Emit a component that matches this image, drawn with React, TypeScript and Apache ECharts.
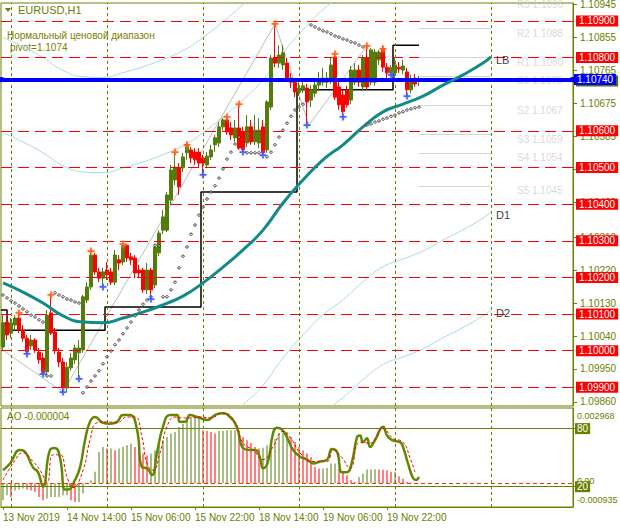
import React, { useEffect, useRef } from "react";
import * as echarts from "echarts";

const SLOTS = 143;
// candles: [open, close, low, high]
const candles: number[][] = [
  [1.10010, 1.10076, 1.10002, 1.10097], [1.10078, 1.10043, 1.10029, 1.10097], [1.10048, 1.10076, 1.10034, 1.10089],
  [1.10070, 1.10089, 1.10056, 1.10097], [1.10089, 1.10056, 1.10048, 1.10103], [1.10056, 1.10034, 1.10024, 1.10070],
  [1.10034, 1.09996, 1.09991, 1.10043], [1.10013, 1.10029, 1.10002, 1.10043], [1.10029, 1.10002, 1.09994, 1.10034],
  [1.09996, 1.09975, 1.09964, 1.10007], [1.09980, 1.09939, 1.09936, 1.09994], [1.09942, 1.10097, 1.09931, 1.10111],
  [1.10103, 1.10048, 1.10043, 1.10152], [1.10051, 1.10002, 1.09991, 1.10062], [1.09996, 1.09969, 1.09955, 1.10007],
  [1.09969, 1.09898, 1.09887, 1.09980], [1.09898, 1.09955, 1.09887, 1.09969], [1.09953, 1.09980, 1.09945, 1.09994],
  [1.09975, 1.10007, 1.09964, 1.10016], [1.09994, 1.10007, 1.09923, 1.10029], [1.10002, 1.10147, 1.09994, 1.10152],
  [1.10138, 1.10174, 1.10130, 1.10187], [1.10174, 1.10261, 1.10166, 1.10272], [1.10261, 1.10215, 1.10207, 1.10267],
  [1.10215, 1.10198, 1.10187, 1.10226], [1.10198, 1.10215, 1.10174, 1.10226], [1.10220, 1.10207, 1.10193, 1.10242],
  [1.10215, 1.10187, 1.10179, 1.10226], [1.10187, 1.10261, 1.10179, 1.10275], [1.10248, 1.10239, 1.10220, 1.10261],
  [1.10242, 1.10288, 1.10234, 1.10291], [1.10288, 1.10253, 1.10242, 1.10288], [1.10256, 1.10248, 1.10234, 1.10267],
  [1.10253, 1.10212, 1.10198, 1.10261], [1.10220, 1.10212, 1.10198, 1.10234], [1.10220, 1.10166, 1.10158, 1.10226],
  [1.10166, 1.10220, 1.10155, 1.10239], [1.10220, 1.10166, 1.10141, 1.10226], [1.10179, 1.10283, 1.10171, 1.10286],
  [1.10267, 1.10321, 1.10258, 1.10329], [1.10329, 1.10365, 1.10318, 1.10384], [1.10329, 1.10425, 1.10324, 1.10433],
  [1.10411, 1.10493, 1.10398, 1.10507], [1.10466, 1.10501, 1.10452, 1.10542], [1.10499, 1.10447, 1.10425, 1.10512],
  [1.10499, 1.10529, 1.10488, 1.10540], [1.10540, 1.10562, 1.10521, 1.10567], [1.10548, 1.10526, 1.10512, 1.10556],
  [1.10542, 1.10521, 1.10507, 1.10553], [1.10542, 1.10512, 1.10501, 1.10553], [1.10526, 1.10512, 1.10480, 1.10534],
  [1.10507, 1.10531, 1.10499, 1.10542], [1.10529, 1.10548, 1.10521, 1.10562], [1.10562, 1.10581, 1.10542, 1.10589],
  [1.10567, 1.10611, 1.10556, 1.10624], [1.10611, 1.10630, 1.10602, 1.10635], [1.10630, 1.10597, 1.10589, 1.10638],
  [1.10608, 1.10589, 1.10575, 1.10624], [1.10581, 1.10608, 1.10570, 1.10630], [1.10608, 1.10553, 1.10548, 1.10673],
  [1.10597, 1.10548, 1.10542, 1.10611], [1.10567, 1.10611, 1.10556, 1.10643], [1.10611, 1.10570, 1.10562, 1.10630],
  [1.10570, 1.10602, 1.10562, 1.10643], [1.10567, 1.10602, 1.10553, 1.10635], [1.10611, 1.10540, 1.10534, 1.10630],
  [1.10548, 1.10679, 1.10540, 1.10684], [1.10665, 1.10799, 1.10657, 1.10807], [1.10799, 1.10785, 1.10774, 1.10892],
  [1.10785, 1.10807, 1.10772, 1.10834], [1.10780, 1.10813, 1.10766, 1.10834], [1.10785, 1.10744, 1.10733, 1.10799],
  [1.10744, 1.10733, 1.10717, 1.10758], [1.10733, 1.10706, 1.10692, 1.10744], [1.10706, 1.10717, 1.10695, 1.10733],
  [1.10712, 1.10723, 1.10703, 1.10739], [1.10717, 1.10679, 1.10616, 1.10728], [1.10684, 1.10712, 1.10665, 1.10725],
  [1.10703, 1.10725, 1.10692, 1.10744], [1.10725, 1.10742, 1.10712, 1.10761], [1.10733, 1.10744, 1.10723, 1.10772],
  [1.10733, 1.10744, 1.10717, 1.10761], [1.10739, 1.10780, 1.10728, 1.10799], [1.10802, 1.10692, 1.10684, 1.10810],
  [1.10720, 1.10671, 1.10657, 1.10739], [1.10698, 1.10652, 1.10638, 1.10712], [1.10712, 1.10671, 1.10663, 1.10723],
  [1.10684, 1.10766, 1.10673, 1.10777], [1.10733, 1.10766, 1.10725, 1.10785], [1.10766, 1.10733, 1.10720, 1.10780],
  [1.10720, 1.10799, 1.10712, 1.10807], [1.10799, 1.10720, 1.10712, 1.10832], [1.10733, 1.10821, 1.10725, 1.10826],
  [1.10733, 1.10815, 1.10723, 1.10824], [1.10794, 1.10815, 1.10780, 1.10821], [1.10824, 1.10774, 1.10761, 1.10832],
  [1.10774, 1.10758, 1.10744, 1.10785], [1.10758, 1.10772, 1.10753, 1.10780], [1.10758, 1.10780, 1.10744, 1.10799],
  [1.10774, 1.10769, 1.10758, 1.10788], [1.10766, 1.10777, 1.10755, 1.10794], [1.10761, 1.10712, 1.10695, 1.10772],
  [1.10712, 1.10739, 1.10703, 1.10753], [1.10744, 1.10728, 1.10720, 1.10755], [1.10736, 1.10739, 1.10723, 1.10750],
];

// displaced moving average (LB) [barIndex, price]
const maLine: number[][] = [
  [0, 1.10185], [5, 1.10160], [10, 1.10130], [15, 1.10095], [20, 1.10078], [25, 1.10076], [30, 1.10089],
  [35, 1.10105], [40, 1.10125], [45, 1.10149], [50, 1.10185], [55, 1.10228], [60, 1.10275], [65, 1.10329],
  [70, 1.10403], [75, 1.10466], [80, 1.10521], [85, 1.10562], [90, 1.10611], [95, 1.10652], [100, 1.10673],
  [105, 1.10695], [110, 1.10725], [115, 1.10753], [120, 1.10785], [122, 1.10802],
];
// price-range bands (light blue)
const bandU1: number[][] = [
  [0, 1.10595], [5, 1.1057], [10, 1.1054], [15, 1.10505], [20, 1.10488], [25, 1.10486], [30, 1.10499],
  [35, 1.10515], [40, 1.10535], [45, 1.10559], [50, 1.10595], [55, 1.10638], [60, 1.10685], [65, 1.10739],
  [70, 1.10813], [75, 1.10876], [80, 1.10931], [85, 1.10972],
];
const bandU2: number[][] = [
  [0, 1.10855], [5, 1.1083], [10, 1.108], [15, 1.10765], [20, 1.10748], [25, 1.10746], [30, 1.10759],
  [35, 1.10775], [40, 1.10795], [45, 1.10819], [50, 1.10855], [55, 1.10898], [60, 1.10945], [65, 1.10999],
];
const bandD1: number[][] = [
  [55, 1.09805], [60, 1.09852], [65, 1.09906], [70, 1.0998], [75, 1.10043], [80, 1.10098], [85, 1.10139],
  [90, 1.10188], [95, 1.10229], [100, 1.1025], [105, 1.10272], [110, 1.10302], [115, 1.1033], [120, 1.10362],
  [122, 1.10379],
];
const bandD2: number[][] = [
  [80, 1.09831], [85, 1.09872], [90, 1.09921], [95, 1.09962], [100, 1.09983], [105, 1.10005], [110, 1.10035],
  [115, 1.10063], [120, 1.10095], [122, 1.10112],
];

// parabolic SAR dots [barIndex, price]
const sarDots: number[][] = [
  [0, 1.10152], [1, 1.10144], [2, 1.10136], [3, 1.10130], [4, 1.10122], [5, 1.10114], [6, 1.10106], [7, 1.10097],
  [8, 1.10092], [9, 1.10084], [10, 1.10078], [11, 1.09931], [12, 1.09931], [13, 1.10158], [14, 1.10152],
  [15, 1.10147], [16, 1.10141], [17, 1.10138], [18, 1.10133], [19, 1.10130], [20, 1.09885], [21, 1.09901],
  [22, 1.09917], [23, 1.09931], [24, 1.09945], [25, 1.09964], [26, 1.09983], [27, 1.09999], [28, 1.10016],
  [29, 1.10029], [30, 1.10046], [31, 1.10062], [32, 1.10078], [33, 1.10095], [34, 1.10111], [35, 1.10127],
  [36, 1.10138], [37, 1.10147], [38, 1.10288], [39, 1.10286], [40, 1.10147], [41, 1.10147], [42, 1.10166],
  [43, 1.10187], [44, 1.10226], [45, 1.10258], [46, 1.10283], [47, 1.10318], [48, 1.10343], [49, 1.10370],
  [50, 1.10392], [51, 1.10414], [52, 1.10433], [53, 1.10450], [54, 1.10471], [55, 1.10496], [56, 1.10523],
  [57, 1.10542], [58, 1.10564], [59, 1.10583], [61, 1.10540], [62, 1.10540], [63, 1.10540], [64, 1.10540],
  [66, 1.10529], [67, 1.10542], [68, 1.10562], [69, 1.10583], [70, 1.10602], [71, 1.10621], [72, 1.10640],
  [73, 1.10657], [74, 1.10665], [75, 1.10673], [77, 1.10889], [78, 1.10884], [79, 1.10878], [80, 1.10873],
  [81, 1.10870], [82, 1.10865], [83, 1.10859], [84, 1.10856], [85, 1.10851], [86, 1.10848], [87, 1.10843],
  [88, 1.10840], [89, 1.10834], [90, 1.10829], [91, 1.10616], [92, 1.10619], [93, 1.10624], [94, 1.10627],
  [95, 1.10632], [96, 1.10635], [97, 1.10640], [98, 1.10643], [99, 1.10649], [100, 1.10652], [101, 1.10657],
  [102, 1.10660], [103, 1.10663], [104, 1.10665],
];

const fractalUp: number[][] = [
  [4, 1.10103], [12, 1.10152], [22, 1.10272], [30, 1.10291], [43, 1.10542], [46, 1.10562],
  [56, 1.10638], [59, 1.10673], [68, 1.10892], [83, 1.10810], [91, 1.10832], [95, 1.10824],
];
const fractalDown: number[][] = [
  [6, 1.09991], [10, 1.09936], [15, 1.09887], [19, 1.09923], [25, 1.10174], [37, 1.10141], [50, 1.10480],
  [60, 1.10542], [65, 1.10534], [76, 1.10616], [85, 1.10638], [97, 1.10753], [101, 1.10695],
];

// daily step line (black)
const dayStep: number[][] = [
  [-0.5, 1.10111], [1, 1.10111], [1, 1.10056], [25.5, 1.10056], [25.5, 1.10119], [49.5, 1.10119],
  [49.5, 1.10433], [73.5, 1.10433], [73.5, 1.10712], [97.5, 1.10712], [97.5, 1.10834], [104, 1.10834],
];

// zigzag (grey)
const zigzag: number[][] = [
  [-0.5, 1.10005], [15, 1.09887], [68, 1.10892], [76.5, 1.10616], [91, 1.10832],
];

const redLevels = [1.109, 1.108, 1.106, 1.105, 1.104, 1.103, 1.102, 1.101, 1.1, 1.099];
const pivotValue = 1.1074;
const bidValue = 1.10736;
const pivotNames = ["R3", "R2", "R1", "S1", "S2", "S3", "S4", "S5"];
const pivotValues = [1.1096, 1.1088, 1.108, 1.1075, 1.1067, 1.1059, 1.1054, 1.1045];
const priceTicks = [1.0986, 1.0995, 1.1004, 1.1013, 1.1022, 1.1031, 1.10405, 1.10495, 1.10585, 1.10675, 1.10765, 1.10855, 1.10945];
const daySeparators = [2, 26, 50, 74, 98, 122];
const timeTickIndex = [0, 16, 32, 48, 64, 80, 96];
const timeTickText = ["13 Nov 2019", "14 Nov 14:00", "15 Nov 06:00", "15 Nov 22:00", "18 Nov 14:00", "19 Nov 06:00", "19 Nov 22:00"];

// Awesome Oscillator histogram
const aoValues = [
  -0.00067, -0.00047, -0.00054, -0.00028, -0.00025, -0.00021, -0.00025, -0.00028, -0.00034, -0.00054,
  -0.00067, -0.0006, -0.00054, -0.00054, -0.00054, -0.00047, -0.00047, -0.00067, -0.00074, -0.00074,
  -0.0004, 0.00001, 0.00012, 0.00045, 0.00123, 0.00143, 0.00137, 0.00137, 0.0013, 0.00137,
  0.00143, 0.0015, 0.00156, 0.00143, 0.0013, 0.00117, 0.0011, 0.00117, 0.0013, 0.0015,
  0.0017, 0.00182, 0.00196, 0.00202, 0.00222, 0.00235, 0.00245, 0.00255, 0.00261, 0.00264,
  0.00209, 0.00206, 0.00202, 0.00196, 0.00206, 0.00206, 0.00209, 0.00209, 0.00209, 0.00196,
  0.00182, 0.0017, 0.00159, 0.00143, 0.00137, 0.0014, 0.0015, 0.0017, 0.00176, 0.00196,
  0.00198, 0.00202, 0.00182, 0.00163, 0.00143, 0.0013, 0.00117, 0.00104, 0.00064, 0.00058,
  0.00058, 0.0006, 0.00078, 0.00078, 0.00058, 0.00045, 0.00032, 0.00012, 0.00005, 0.00025,
  0.00038, 0.00054, 0.00055, 0.00055, 0.00054, 0.00053, 0.00051, 0.00045, 0.00045, 0.00028,
  0.00018, 0.00005, 0.00003, 0.00001, -0.000004,
];
const aoMin = -0.000935;
const aoMax = 0.002968;

// stochastic main / signal [barIndex, value]
const stochMain: number[][] = [
  [0, 37], [1.75, 44], [4.25, 58], [5.5, 56], [7.5, 40], [8.75, 35], [10, 20], [11.75, 58], [13, 60], [14.25, 50],
  [15.5, 17], [16.25, 17], [18, 27], [19.25, 40], [20.5, 68], [21.75, 87], [23, 92], [25, 86], [26.75, 85],
  [28.5, 87], [30, 94], [31.75, 94], [33.5, 79], [34.75, 40], [36, 39], [37.25, 32], [38.5, 55], [40, 82],
  [41.75, 94], [43.5, 94], [44.25, 87], [45.5, 87], [46.75, 94], [48.5, 92], [49.25, 91], [51, 89], [53, 94],
  [54.75, 96], [56.75, 92], [58.5, 81], [60, 60], [61.75, 58], [63, 58], [64.25, 50], [65, 39], [66.25, 46],
  [67.5, 75], [68.5, 81], [69.75, 79], [71, 71], [72.5, 58], [74.25, 51], [76, 48], [77.5, 44], [79.25, 46],
  [81, 48], [82.25, 59], [83.5, 56], [84.75, 35], [86, 35], [87.25, 46], [88.5, 71], [89.25, 73], [90, 66],
  [91, 70], [91.75, 61], [93, 68], [95, 82], [96, 73], [97.25, 68], [99.25, 66], [100, 61], [101.25, 44],
  [102.5, 29], [103.25, 27], [104, 30],
];
const stochSignal: number[][] = [
  [0, 27], [2.5, 44], [5, 55], [7.5, 46], [9.25, 37], [11, 25], [12.5, 53], [14.25, 53], [16, 30], [17.5, 19],
  [20, 37], [21.75, 68], [23.5, 86], [26, 87], [28.5, 86], [31, 92], [33, 92], [34.75, 71], [36, 44], [37.5, 37],
  [39.25, 55], [41, 82], [43, 92], [45, 91], [46.75, 91], [49.25, 92], [51.75, 91], [55, 96], [58, 87], [60, 65],
  [62.5, 58], [65, 48], [67.5, 61], [70, 77], [72.25, 68], [74.25, 55], [77.5, 46], [81, 46], [82.5, 58],
  [84.75, 50], [86.75, 39], [89.25, 66], [91.75, 65], [95, 80], [97.5, 70], [100, 66], [101.75, 50], [103, 35],
];

const OLIVE = "#6b8000";
const GREEN = "#537d0b";
const LIGHTBLUE = "#a9d9e8";
const FONT = "Liberation Sans";
const PLUS = "path://M3,0H5V3H8V5H5V8H3V5H0V3H3Z";

export default function App() {
  const ref = useRef<HTMLDivElement>(null);
  useEffect(() => {
    if (!ref.current) return;
    const chart = echarts.init(ref.current, null, { renderer: "svg" });
    const cats = Array.from({ length: SLOTS }, (_, i) => String(i));
    const aoData = aoValues.map((v, i) => ({
      value: v,
      itemStyle: { color: i > 0 && v < aoValues[i - 1] ? "#ff0000" : GREEN },
    }));
    const sepLines = daySeparators.map((x) => ({ xAxis: x }));
    const band = (data: number[][]) => ({
      type: "line", xAxisIndex: 1, yAxisIndex: 0, data, symbol: "none", smooth: true, clip: true,
      lineStyle: { color: LIGHTBLUE, width: 1 }, z: 2,
    });
    const priceLabel = (bg: string, text: (p: any) => string) => ({
      show: true, position: "end", distance: 3, formatter: text, backgroundColor: bg, color: "#ffffff",
      fontSize: 10, fontFamily: FONT, padding: [1, 3, 0, 3],
    });
    const option: any = {
      animation: false,
      backgroundColor: "#ffffff",
      textStyle: { fontFamily: FONT },
      grid: [
        { left: 1, right: 47, top: 3, height: 403, show: true, borderColor: OLIVE, borderWidth: 1, containLabel: false, outerBoundsMode: "none" },
        { left: 1, right: 47, top: 408, height: 99, show: true, borderColor: OLIVE, borderWidth: 1, containLabel: false, outerBoundsMode: "none" },
      ],
      xAxis: [
        { type: "category", gridIndex: 0, data: cats, boundaryGap: true, show: false },
        { type: "value", gridIndex: 0, min: -0.5, max: SLOTS - 0.5, show: false },
        { type: "category", gridIndex: 1, data: cats, boundaryGap: true, show: false },
        {
          type: "value", gridIndex: 1, min: -0.5, max: SLOTS - 0.5, position: "bottom",
          axisLine: { show: true, onZero: false, lineStyle: { color: OLIVE } },
          axisTick: { show: true, customValues: timeTickIndex, length: 3, lineStyle: { color: OLIVE } },
          axisLabel: {
            show: true, customValues: timeTickIndex, align: "left", margin: 5, color: OLIVE, fontSize: 10, fontFamily: FONT,
            formatter: (v: number) => timeTickText[timeTickIndex.indexOf(Math.round(v))] || "",
          },
          splitLine: { show: false },
        },
      ],
      yAxis: [
        {
          type: "value", gridIndex: 0, position: "right", min: 1.098489, max: 1.109491, scale: true,
          axisLine: { show: true, onZero: false, lineStyle: { color: OLIVE } },
          axisTick: { show: true, customValues: priceTicks, length: 4, lineStyle: { color: OLIVE } },
          axisLabel: { show: true, customValues: priceTicks, margin: 7, color: OLIVE, fontSize: 10, fontFamily: FONT, formatter: (v: number) => v.toFixed(5) },
          splitLine: { show: false },
        },
        {
          type: "value", gridIndex: 1, position: "right", min: aoMin, max: aoMax,
          axisLine: { show: true, onZero: false, lineStyle: { color: OLIVE } },
          axisTick: { show: false },
          axisLabel: {
            show: true, customValues: [aoMin, 0, aoMax], margin: 4, color: OLIVE, fontSize: 9, fontFamily: FONT,
            formatter: (v: number) => (v === aoMax ? "{t|" + aoMax.toFixed(6) + "}" : v === aoMin ? "{b|" + aoMin.toFixed(6) + "}" : "{m|0.00}"),
            rich: {
              t: { padding: [16, 0, 0, 0], color: OLIVE, fontSize: 9, fontFamily: FONT },
              b: { padding: [0, 0, 14, 0], color: OLIVE, fontSize: 9, fontFamily: FONT },
              m: { padding: [0, 0, 4, 0], color: OLIVE, fontSize: 9, fontFamily: FONT },
            },
          },
          splitLine: { show: false },
        },
        {
          type: "value", gridIndex: 1, position: "right", min: -1, max: 101.3,
          axisLine: { show: false, onZero: false },
          axisTick: { show: true, customValues: [20, 80], length: 3, lineStyle: { color: OLIVE } },
          axisLabel: {
            show: true, customValues: [20, 80], margin: 2, color: "#ffffff", fontSize: 10, fontFamily: FONT,
            backgroundColor: OLIVE, padding: [1, 2, 0, 2], align: "left",
          },
          splitLine: { show: false },
        },
      ],
      series: [
        {
          type: "line", xAxisIndex: 1, yAxisIndex: 0, data: [], z: 1,
          markLine: {
            silent: true, symbol: "none", animation: false, precision: 5,
            lineStyle: { color: "#ff0000", type: [11, 6], width: 1 },
            label: priceLabel("#ff0000", (p: any) => Number(p.value).toFixed(5)),
            data: redLevels.map((v) => ({ yAxis: v })),
          },
        },
        {
          type: "line", xAxisIndex: 1, yAxisIndex: 0, data: [], z: 1,
          markLine: {
            silent: true, symbol: "none", animation: false,
            lineStyle: { color: OLIVE, type: [3, 3], width: 1 },
            label: { show: false },
            data: sepLines,
          },
        },
        {
          type: "line", xAxisIndex: 3, yAxisIndex: 1, data: [], z: 1,
          markLine: {
            silent: true, symbol: "none", animation: false,
            lineStyle: { color: OLIVE, type: [3, 3], width: 1 },
            label: { show: false },
            data: sepLines,
          },
        },
        // pivot level lines
        {
          type: "line", xAxisIndex: 1, yAxisIndex: 0, data: [], z: 1,
          markLine: {
            silent: true, symbol: "none", animation: false, precision: 5,
            lineStyle: { color: "#d3d3d3", type: "solid", width: 1 },
            label: { show: false },
            data: pivotValues.map((v) => [{ coord: [104, v] }, { coord: [122, v] }]),
          },
        },
        {
          type: "scatter", xAxisIndex: 1, yAxisIndex: 0, symbolSize: 0, z: 2, clip: false,
          data: pivotValues.map((v, k) => [128.5, v, pivotNames[k]]),
          label: {
            show: true, position: "right", distance: 0, offset: [0, 5], color: "#cfcfcf", fontSize: 10, fontFamily: FONT,
            formatter: (p: any) => p.value[2] + " " + Number(p.value[1]).toFixed(4),
          },
        },
        { type: "line", xAxisIndex: 1, yAxisIndex: 0, data: zigzag, symbol: "none", lineStyle: { color: "#bdbdbd", width: 1 }, z: 2 },
        band(bandU1),
        band(bandU2),
        band(bandD1),
        band(bandD2),
        { type: "line", xAxisIndex: 1, yAxisIndex: 0, data: dayStep, symbol: "none", lineStyle: { color: "#000000", width: 1.5 }, z: 3 },
        {
          type: "candlestick", xAxisIndex: 0, yAxisIndex: 0, data: candles, barWidth: 3, z: 4,
          itemStyle: { color: GREEN, color0: "#ff0000", borderColor: GREEN, borderColor0: "#ff0000", borderWidth: 1 },
        },
        { type: "line", xAxisIndex: 1, yAxisIndex: 0, data: maLine, symbol: "none", smooth: true, lineStyle: { color: "#138a8a", width: 3 }, z: 5 },
        {
          type: "scatter", xAxisIndex: 1, yAxisIndex: 0, data: sarDots, symbol: "diamond", symbolSize: 3, z: 5,
          itemStyle: { color: "#ffffff", borderColor: "#000000", borderWidth: 1 },
        },
        {
          type: "scatter", xAxisIndex: 1, yAxisIndex: 0, data: fractalUp, symbol: PLUS, symbolSize: 7, z: 6,
          itemStyle: { color: "#ff3300", shadowColor: "#ffcc66", shadowBlur: 3 },
        },
        {
          type: "scatter", xAxisIndex: 1, yAxisIndex: 0, data: fractalDown, symbol: PLUS, symbolSize: 7, z: 6,
          itemStyle: { color: "#1a1aff", shadowColor: "#99ccff", shadowBlur: 3 },
        },
        // bid line label (behind pivot label)
        {
          type: "line", xAxisIndex: 1, yAxisIndex: 0, data: [], z: 6,
          markLine: {
            silent: true, symbol: "none", animation: false, precision: 5,
            lineStyle: { color: "#c0c0c0", width: 1, type: "solid" },
            label: priceLabel("#4f7a00", () => bidValue.toFixed(5)),
            data: [{ yAxis: bidValue }],
          },
        },
        // pivot (blue)
        {
          type: "line", xAxisIndex: 1, yAxisIndex: 0, data: [], z: 7,
          markLine: {
            silent: true, symbol: ["rect", "rect"], symbolSize: 5, animation: false, precision: 5,
            lineStyle: { color: "#0000ff", width: 4, type: "solid" },
            label: { ...priceLabel("#0000ff", () => pivotValue.toFixed(5)), distance: 1 },
            data: [{ yAxis: pivotValue }],
          },
        },
        {
          type: "scatter", xAxisIndex: 1, yAxisIndex: 0, symbolSize: 0, z: 8,
          data: [[122, maLine[maLine.length - 1][1], "LB"], [122, bandD1[bandD1.length - 1][1], "D1"], [122, bandD2[bandD2.length - 1][1], "D2"]],
          label: { show: true, position: "right", distance: 5, offset: [0, 3], color: "#000000", fontSize: 11, fontFamily: FONT, formatter: (p: any) => p.value[2] },
        },
        // AO histogram
        {
          type: "bar", xAxisIndex: 2, yAxisIndex: 1, data: aoData, barWidth: 1, z: 2,
          markLine: {
            silent: true, symbol: "none", animation: false, precision: 6,
            lineStyle: { color: "#ff3300", type: [4, 3], width: 1 },
            label: { show: false },
            data: [{ yAxis: 0 }],
          },
        },
        {
          type: "line", xAxisIndex: 3, yAxisIndex: 2, data: stochMain, symbol: "none", smooth: true, z: 4,
          lineStyle: { color: "#5f8a00", width: 2.5 },
          markLine: {
            silent: true, symbol: "none", animation: false,
            lineStyle: { color: OLIVE, type: "solid", width: 1 },
            label: { show: false },
            data: [{ yAxis: 20 }, { yAxis: 80 }],
          },
        },
        {
          type: "line", xAxisIndex: 3, yAxisIndex: 2, data: stochSignal, symbol: "none", smooth: true, z: 5,
          lineStyle: { color: "#ff0000", width: 1, type: [3, 2] },
        },
      ],
      graphic: [
        { type: "polygon", shape: { points: [[5, 8], [11, 8], [8, 12]] }, style: { fill: OLIVE } },
        { type: "text", left: 18, top: 4, style: { text: "EURUSD,H1", fill: OLIVE, font: "11px " + FONT } },
        { type: "text", left: 7, top: 30, style: { text: "Нормальный ценовой диапазон", fill: "#7a8000", font: "10px " + FONT } },
        { type: "text", left: 10, top: 42, style: { text: "pivot=" + pivotValue.toFixed(4), fill: "#7a8000", font: "10px " + FONT } },
        { type: "text", left: 7, top: 411, style: { text: "AO " + aoValues[aoValues.length - 1].toFixed(6), fill: OLIVE, font: "10px " + FONT } },
      ],
    };
    chart.setOption(option);
    return () => chart.dispose();
  }, []);
  return <div ref={ref} style={{ position: "fixed", left: 0, top: 0, width: 620, height: 528, background: "#fff" }} />;
}
